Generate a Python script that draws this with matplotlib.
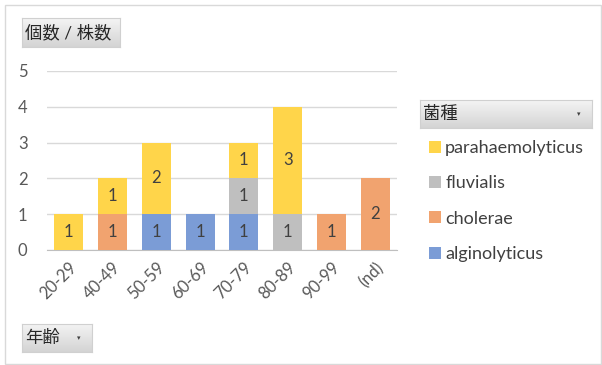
import matplotlib
matplotlib.use('Agg')
import matplotlib.pyplot as plt
import numpy as np
from matplotlib.patches import Rectangle

plt.rcParams['font.family'] = ['Lato', 'Noto Sans CJK JP', 'DejaVu Sans']

# data (pivot table: count of strains by age group and species)
age_groups = ['20-29', '40-49', '50-59', '60-69', '70-79', '80-89', '90-99', '(nd)']
species = ['alginolyticus', 'cholerae', 'fluvialis', 'parahaemolyticus']
alginolyticus = [0, 0, 1, 1, 1, 0, 0, 0]
cholerae = [0, 1, 0, 0, 0, 0, 1, 2]
fluvialis = [0, 0, 0, 0, 1, 1, 0, 0]
parahaemolyticus = [1, 1, 2, 0, 1, 3, 0, 0]
colors = ['#7b9cd6', '#f1a36f', '#bfbfbf', '#ffd54a']

W, H = 602, 365
fig = plt.figure(figsize=(W / 100, H / 100), dpi=100)


def fx(px):
    return px / W


def fy(py):
    return 1 - py / H


# outer chart border
fig.patches.append(Rectangle((fx(5), fy(364)), fx(596), fy(5) - fy(364),
                             transform=fig.transFigure, fill=False,
                             edgecolor='#d9d9d9', lw=1))

ax = fig.add_axes([fx(47), fy(250), fx(397) - fx(47), fy(71) - fy(250)])
x = np.arange(len(age_groups))
bottom = np.zeros(len(age_groups))
handles = []
for name, vals, c in zip(species, [alginolyticus, cholerae, fluvialis, parahaemolyticus], colors):
    vals = np.array(vals)
    bars = ax.bar(x, vals, 0.66, bottom=bottom, color=c, label=name, zorder=3)
    handles.append(bars)
    for xi, b, v in zip(x, bottom, vals):
        if v > 0:
            ax.text(xi, b + v / 2, str(v), ha='center', va='center',
                    fontsize=12, color='#404040', zorder=4)
    bottom += vals

ax.set_xlim(-0.5, len(age_groups) - 0.5)
ax.set_ylim(0, 5)
ax.set_yticks(range(6))
ax.grid(axis='y', color='#d9d9d9', lw=1, zorder=0)
for s in ['top', 'right', 'left']:
    ax.spines[s].set_visible(False)
ax.spines['bottom'].set_color('#bfbfbf')
ax.tick_params(length=0, labelsize=12, labelcolor='#595959')
ax.tick_params(axis='y', pad=14)
ax.set_xticks(x)
ax.set_xticklabels(age_groups, rotation=45, ha='right', rotation_mode='anchor')
ax.tick_params(axis='x', pad=7)


def button(x0, y0, x1, y1, label, arrow=False):
    bax = fig.add_axes([fx(x0), fy(y1), fx(x1) - fx(x0), fy(y0) - fy(y1)])
    grad = np.linspace(0, 1, 50).reshape(-1, 1)
    bax.imshow(grad, aspect='auto', cmap=matplotlib.colors.LinearSegmentedColormap.from_list(
        'g', ['#f4f4f4', '#d4d4d4']), extent=[0, 1, 0, 1])
    bax.set_xticks([])
    bax.set_yticks([])
    for sp in bax.spines.values():
        sp.set_color('#d0d0d0')
    fig.text(fx(x0 + 3), fy((y0 + y1) / 2), label, fontsize=12.5, color='#262626',
             ha='left', va='center')
    if arrow:
        fig.text(fx(x1 - 13), fy((y0 + y1) / 2), '▾', fontsize=5, color='#404040',
                 ha='center', va='center', family='DejaVu Sans')


button(22, 18, 120, 47, '個数 / 株数')
button(420, 100, 592, 128, '菌種', arrow=True)
button(22, 324, 92, 352, '年齢', arrow=True)

leg = fig.legend(handles[::-1], species[::-1], loc='upper left',
                 bbox_to_anchor=(fx(429), fy(140)), frameon=False,
                 fontsize=13, labelcolor='#404040', handlelength=0.65,
                 handleheight=0.65, handletextpad=0.25, labelspacing=1.07,
                 borderpad=0, borderaxespad=0)

fig.savefig('out.png', dpi=100)
